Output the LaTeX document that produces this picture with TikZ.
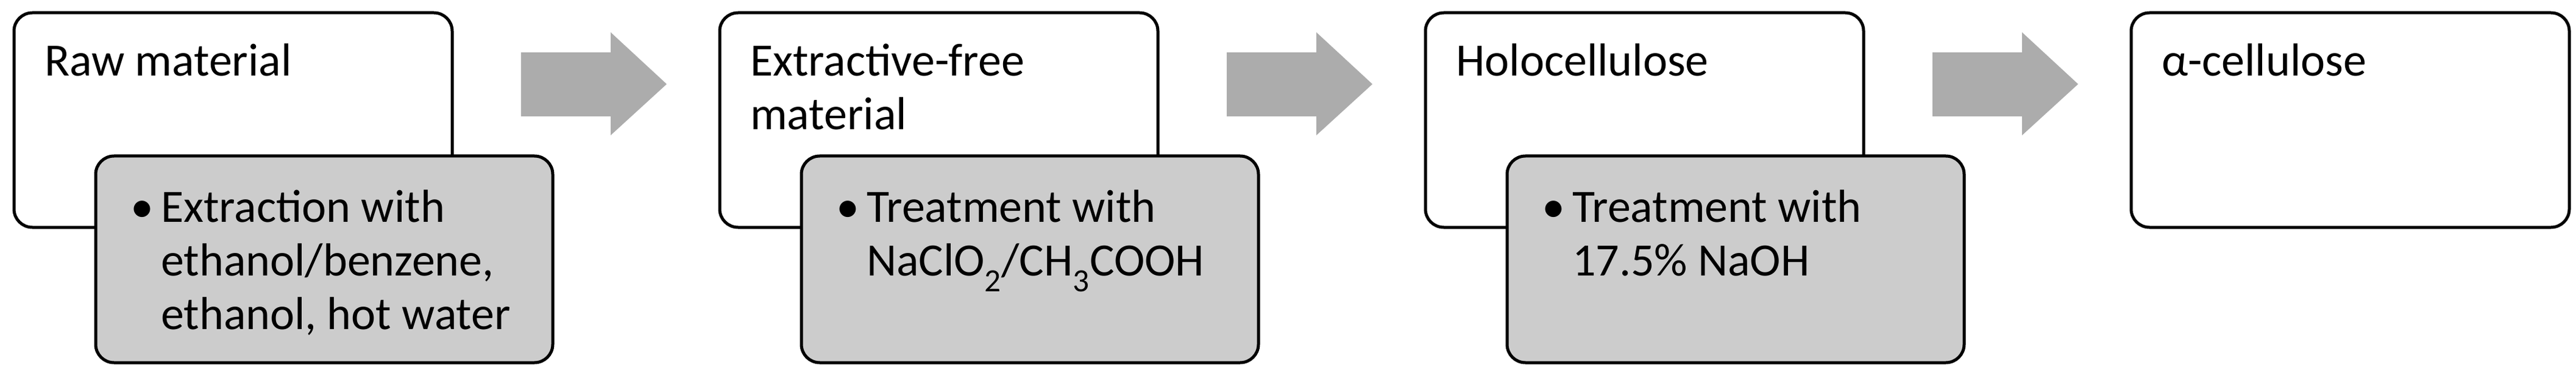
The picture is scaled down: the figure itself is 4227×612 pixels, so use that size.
\documentclass[tikz,border=0pt]{standalone}
\usepackage{fontspec}
\setmainfont{Carlito}
\newcommand{\bul}{\makebox[50pt][l]{\textbullet}}
\newcommand{\ind}{\hspace*{50pt}}
\begin{document}
\begin{tikzpicture}[x=1pt,y=-1pt,
  wbox/.style={draw=black,line width=5pt,rounded corners=30pt,fill=white},
  gbox/.style={draw=black,line width=5pt,rounded corners=30pt,fill=gray!40},
  arr/.style={fill=gray!65,draw=none},
  txt/.style={anchor=north west,inner sep=0pt,font=\fontsize{76}{88}\selectfont,align=left}]
\useasboundingbox (0,0) rectangle (4227,612);
\foreach \i/\t/\g in {0/{Raw material}/{\bul Extraction with\\\ind ethanol/benzene,\\\ind ethanol, hot water},
  1/{Extractive-free\\material}/{\bul Treatment with\\\ind NaClO\textsubscript{2}/CH\textsubscript{3}COOH},
  2/{Holocellulose}/{\bul Treatment with\\\ind 17.5\% NaOH}}{
  \pgfmathsetmacro\o{\i*1158}
  \draw[wbox] (\o+23,21) rectangle (\o+742,373);
  \node[txt] (t\i) at (\o+73,72) {\t};
  \draw[gbox] (\o+157,256) rectangle (\o+907,595);
  \node[txt] (g\i) at (\o+214,312) {\g};
  \fill[arr] (\o+855,86) -- (\o+1002,86) -- (\o+1002,53) -- (\o+1094,138) -- (\o+1002,222) -- (\o+1002,191) -- (\o+855,191) -- cycle;
}
\draw[wbox] (3497,21) rectangle (4216,373);
\node[txt] (t3) at (3547,72) {α-cellulose};
\end{tikzpicture}
\end{document}
